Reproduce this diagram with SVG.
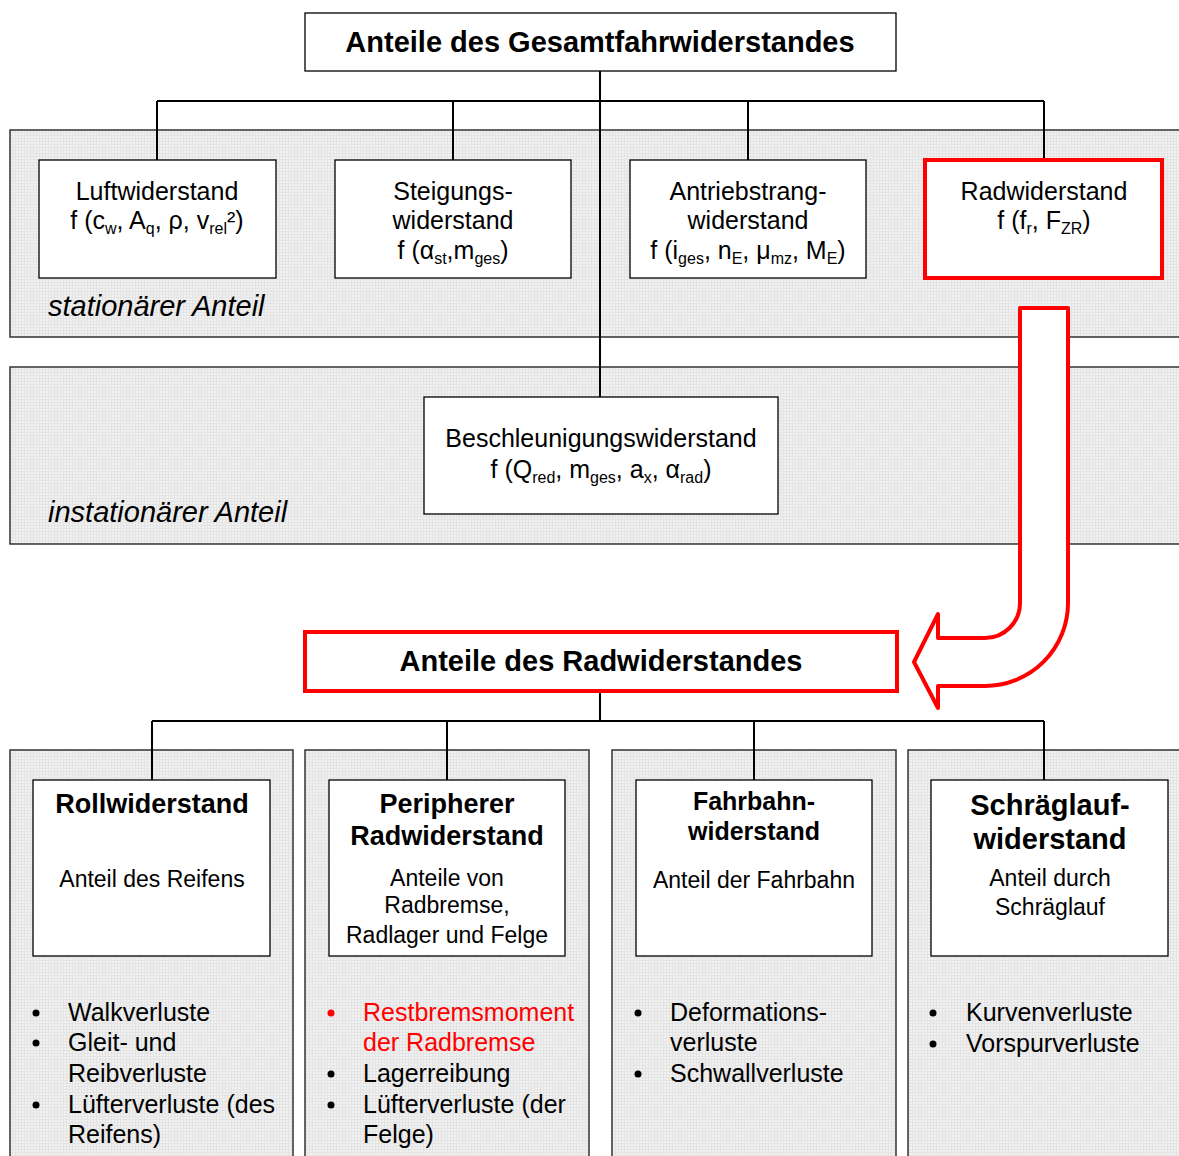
<svg xmlns="http://www.w3.org/2000/svg" width="1179" height="1156" viewBox="0 0 1179 1156">
<defs>
<pattern id="dots" width="3" height="3" patternUnits="userSpaceOnUse">
<rect width="3" height="3" fill="#f1f1f1"/>
<rect width="3" height="1" fill="#e4e4e4"/>
<rect width="1" height="3" fill="#e4e4e4"/>
</pattern>
</defs>
<style>
text{font-family:"Liberation Sans",Arial,sans-serif;fill:#000}
.panel{fill:url(#dots);stroke:#333;stroke-width:1.5}
.box{fill:#fff;stroke:#000;stroke-width:1.3}
.rbox{fill:#fff;stroke:#ff0000;stroke-width:4}
.t{font-size:25px;text-anchor:middle}
.h{font-size:29px;font-weight:bold;text-anchor:middle}
.hb{font-size:27px;font-weight:bold;text-anchor:middle}
.s{font-size:23px;text-anchor:middle}
.it{font-size:29px;font-style:italic}
.b{font-size:25px}
.sub{font-size:16px}
.red{fill:#ff0000}
.conn{stroke:#000;stroke-width:2;fill:none}
</style>
<g id="panels">
<rect class="panel" x="10" y="130" width="1180" height="207"/>
<rect class="panel" x="10" y="367" width="1180" height="177"/>
<rect class="panel" x="10" y="750" width="283" height="420"/>
<rect class="panel" x="305" y="750" width="284" height="420"/>
<rect class="panel" x="612" y="750" width="284" height="420"/>
<rect class="panel" x="908" y="750" width="290" height="420"/>
<text class="it" x="48" y="316">stationärer Anteil</text>
<text class="it" x="48" y="522">instationärer Anteil</text>
</g>
<g id="connectors">
<path class="conn" d="M600,71 V397 M157,101 H1044 M157,101 V160 M453,101 V160 M748,101 V160 M1044,101 V160"/>
<path class="conn" d="M600,691 V721 M152,721 H1044 M152,721 V780 M447,721 V780 M754,721 V780 M1044,721 V780"/>
</g>
<g id="gesamt">
<rect class="box" x="305" y="13" width="591" height="58"/>
<text class="h" x="600" y="52">Anteile des Gesamtfahrwiderstandes</text>
</g>
<g id="luft">
<rect class="box" x="39" y="160" width="237" height="118"/>
<text class="t" x="157" y="200">Luftwiderstand</text>
<text class="t" x="157" y="229">f (c<tspan class="sub" dy="5">w</tspan><tspan dy="-5">, A</tspan><tspan class="sub" dy="5">q</tspan><tspan dy="-5">, ρ, v</tspan><tspan class="sub" dy="5">rel</tspan><tspan dy="-5">²)</tspan></text>
</g>
<g id="steigung">
<rect class="box" x="335" y="160" width="236" height="118"/>
<text class="t" x="453" y="200">Steigungs-</text>
<text class="t" x="453" y="229">widerstand</text>
<text class="t" x="453" y="259">f (α<tspan class="sub" dy="5">st</tspan><tspan dy="-5">,m</tspan><tspan class="sub" dy="5">ges</tspan><tspan dy="-5">)</tspan></text>
</g>
<g id="antrieb">
<rect class="box" x="630" y="160" width="236" height="118"/>
<text class="t" x="748" y="200">Antriebstrang-</text>
<text class="t" x="748" y="229">widerstand</text>
<text class="t" x="748" y="259">f (i<tspan class="sub" dy="5">ges</tspan><tspan dy="-5">, n</tspan><tspan class="sub" dy="5">E</tspan><tspan dy="-5">, μ</tspan><tspan class="sub" dy="5">mz</tspan><tspan dy="-5">, M</tspan><tspan class="sub" dy="5">E</tspan><tspan dy="-5">)</tspan></text>
</g>
<g id="rad">
<rect class="rbox" x="925" y="160" width="237" height="118"/>
<text class="t" x="1044" y="200">Radwiderstand</text>
<text class="t" x="1044" y="229">f (f<tspan class="sub" dy="5">r</tspan><tspan dy="-5">, F</tspan><tspan class="sub" dy="5">ZR</tspan><tspan dy="-5">)</tspan></text>
</g>
<g id="beschl">
<rect class="box" x="424" y="397" width="354" height="117"/>
<text class="t" x="601" y="447">Beschleunigungswiderstand</text>
<text class="t" x="601" y="478">f (Q<tspan class="sub" dy="5">red</tspan><tspan dy="-5">, m</tspan><tspan class="sub" dy="5">ges</tspan><tspan dy="-5">, a</tspan><tspan class="sub" dy="5">x</tspan><tspan dy="-5">, α</tspan><tspan class="sub" dy="5">rad</tspan><tspan dy="-5">)</tspan></text>
</g>
<g id="arrow">
<path d="M1020,308 L1068,308 L1068,603 A83,83 0 0 1 985,686 L938,686 L938,708 L914,662 L938,614 L938,638 L985,638 A35,35 0 0 0 1020,603 Z" fill="#fff" stroke="#ff0000" stroke-width="4" stroke-linejoin="round"/>
</g>
<g id="radanteile">
<rect class="rbox" x="305" y="632" width="592" height="59"/>
<text class="h" x="601" y="671">Anteile des Radwiderstandes</text>
</g>
<g id="roll">
<rect class="box" x="33" y="780" width="237" height="176"/>
<text class="hb" x="152" y="813">Rollwiderstand</text>
<text class="s" x="152" y="887">Anteil des Reifens</text>
<circle cx="36" cy="1013" r="3.5"/><circle cx="36" cy="1043" r="3.5"/><circle cx="36" cy="1105" r="3.5"/>
<text class="b" x="68" y="1021">Walkverluste</text>
<text class="b" x="68" y="1051">Gleit- und</text>
<text class="b" x="68" y="1082">Reibverluste</text>
<text class="b" x="68" y="1113">Lüfterverluste (des</text>
<text class="b" x="68" y="1143">Reifens)</text>
</g>
<g id="peripher">
<rect class="box" x="329" y="780" width="236" height="176"/>
<text class="hb" x="447" y="813">Peripherer</text>
<text class="hb" x="447" y="845">Radwiderstand</text>
<text class="s" x="447" y="886">Anteile von</text>
<text class="s" x="447" y="913">Radbremse,</text>
<text class="s" x="447" y="943">Radlager und Felge</text>
<circle cx="331" cy="1013" r="3.5" fill="#ff0000"/><circle cx="331" cy="1074" r="3.5"/><circle cx="331" cy="1105" r="3.5"/>
<text class="b red" x="363" y="1021">Restbremsmoment</text>
<text class="b red" x="363" y="1051">der Radbremse</text>
<text class="b" x="363" y="1082">Lagerreibung</text>
<text class="b" x="363" y="1113">Lüfterverluste (der</text>
<text class="b" x="363" y="1143">Felge)</text>
</g>
<g id="fahrbahn">
<rect class="box" x="636" y="780" width="236" height="176"/>
<text class="h" style="font-size:25px" x="754" y="810">Fahrbahn-</text>
<text class="h" style="font-size:25px" x="754" y="840">widerstand</text>
<text class="s" x="754" y="888">Anteil der Fahrbahn</text>
<circle cx="638" cy="1013" r="3.5"/><circle cx="638" cy="1074" r="3.5"/>
<text class="b" x="670" y="1021">Deformations-</text>
<text class="b" x="670" y="1051">verluste</text>
<text class="b" x="670" y="1082">Schwallverluste</text>
</g>
<g id="schraeg">
<rect class="box" x="931" y="780" width="237" height="176"/>
<text class="h" x="1050" y="815">Schräglauf-</text>
<text class="h" x="1050" y="849">widerstand</text>
<text class="s" x="1050" y="886">Anteil durch</text>
<text class="s" x="1050" y="915">Schräglauf</text>
<circle cx="933" cy="1013" r="3.5"/><circle cx="933" cy="1044" r="3.5"/>
<text class="b" x="966" y="1021">Kurvenverluste</text>
<text class="b" x="966" y="1052">Vorspurverluste</text>
</g>
</svg>
